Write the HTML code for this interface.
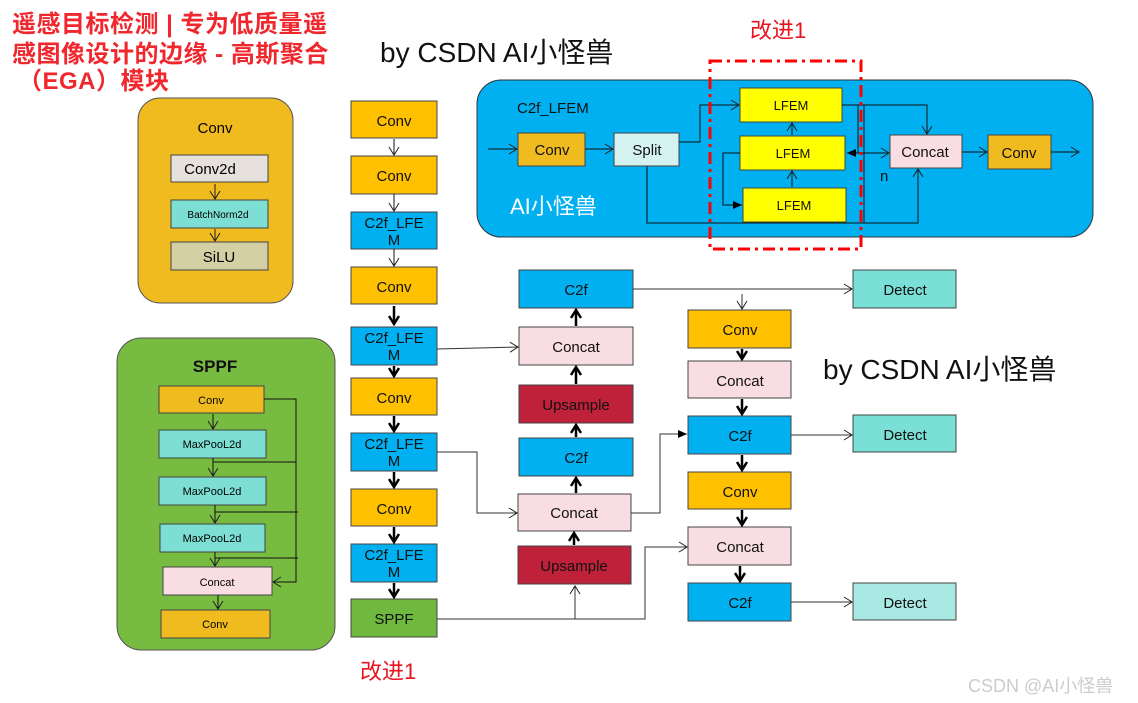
<!DOCTYPE html>
<html><head><meta charset="utf-8"><style>
html,body{margin:0;padding:0;background:#fff;width:1138px;height:703px;overflow:hidden}
svg text{font-family:"Liberation Sans","Noto Sans CJK SC",sans-serif}
</style></head><body>
<svg width="1138" height="703" viewBox="0 0 1138 703" xmlns="http://www.w3.org/2000/svg">
<defs>
<marker id="o" markerWidth="12" markerHeight="12" refX="10" refY="6" orient="auto" markerUnits="userSpaceOnUse"><path d="M2,1 L10,6 L2,11" fill="none" stroke="#222" stroke-width="1"/></marker>
<marker id="b" markerWidth="12" markerHeight="12" refX="10" refY="6" orient="auto" markerUnits="userSpaceOnUse"><path d="M2,1 L10,6 L2,11" fill="none" stroke="#000" stroke-width="2.5"/></marker>
<marker id="f" markerWidth="12" markerHeight="12" refX="10" refY="6" orient="auto" markerUnits="userSpaceOnUse"><path d="M1,2 L10,6 L1,10 Z" fill="#000"/></marker>
</defs>
<g font-weight="bold" fill="#F0282D" font-size="24" letter-spacing="0.5">
<text x="12" y="32">遥感目标检测 | 专为低质量遥</text>
<text x="12" y="62">感图像设计的边缘 - 高斯聚合</text>
<text x="18" y="89">（EGA）模块</text>
</g>
<text x="380" y="62" font-size="28" fill="#111">by CSDN AI小怪兽</text>
<text x="823" y="379" font-size="28" fill="#111">by CSDN AI小怪兽</text>
<text x="750" y="38" font-size="22" fill="#E8141E">改进1</text>
<text x="360" y="679" font-size="22" fill="#E8141E">改进1</text>
<text x="968" y="692" font-size="18" fill="#ccc">CSDN @AI小怪兽</text>

<!-- Conv panel -->
<rect x="138" y="98" width="155" height="205" rx="22" fill="#F0BB1E" stroke="#555"/>
<text x="215" y="133" font-size="15" text-anchor="middle">Conv</text>
<rect x="171" y="155" width="97" height="27" fill="#E6E1DC" stroke="#444"/>
<text x="210" y="174" font-size="15" text-anchor="middle">Conv2d</text>
<rect x="171" y="200" width="97" height="28" fill="#7DDFD3" stroke="#444"/>
<text x="218" y="218" font-size="10" text-anchor="middle">BatchNorm2d</text>
<rect x="171" y="242" width="97" height="28" fill="#D4D0A6" stroke="#444"/>
<text x="219" y="262" font-size="15" text-anchor="middle">SiLU</text>
<line x1="215" y1="184" x2="215" y2="199" stroke="#222" marker-end="url(#o)"/>
<line x1="215" y1="229" x2="215" y2="241" stroke="#222" marker-end="url(#o)"/>

<!-- SPPF panel -->
<rect x="117" y="338" width="218" height="312" rx="24" fill="#77BB41" stroke="#555"/>
<text x="215" y="372" font-size="17" font-weight="bold" text-anchor="middle" fill="#111">SPPF</text>
<g stroke="#444">
<rect x="159" y="386" width="105" height="27" fill="#F0BB1E"/>
<rect x="159" y="430" width="107" height="28" fill="#7DDFD3"/>
<rect x="159" y="477" width="107" height="28" fill="#7DDFD3"/>
<rect x="160" y="524" width="105" height="28" fill="#7DDFD3"/>
<rect x="163" y="567" width="109" height="28" fill="#F8DDE2"/>
<rect x="161" y="610" width="109" height="28" fill="#F0BB1E"/>
</g>
<g font-size="11" text-anchor="middle">
<text x="211" y="404">Conv</text>
<text x="212" y="448">MaxPooL2d</text>
<text x="212" y="495">MaxPooL2d</text>
<text x="212" y="542">MaxPooL2d</text>
<text x="217" y="586">Concat</text>
<text x="215" y="628">Conv</text>
</g>
<g stroke="#111" fill="none">
<line x1="213" y1="414" x2="213" y2="429" marker-end="url(#o)"/>
<line x1="213" y1="458" x2="213" y2="476" marker-end="url(#o)"/>
<line x1="215" y1="505" x2="215" y2="523" marker-end="url(#o)"/>
<line x1="215" y1="552" x2="215" y2="566" marker-end="url(#o)"/>
<line x1="218" y1="595" x2="218" y2="609" marker-end="url(#o)"/>
<polyline points="264,399 296,399 296,582 273,582" marker-end="url(#o)"/>
<line x1="213" y1="462" x2="296" y2="462"/>
<line x1="215" y1="512" x2="298" y2="512"/>
<line x1="215" y1="558" x2="298" y2="558"/>
</g>

<!-- Backbone -->
<g stroke="#444">
<rect x="351" y="101" width="86" height="37" fill="#FFC000"/>
<rect x="351" y="156" width="86" height="38" fill="#FFC000"/>
<rect x="351" y="212" width="86" height="37" fill="#00B0F0"/>
<rect x="351" y="267" width="86" height="37" fill="#FFC000"/>
<rect x="351" y="327" width="86" height="38" fill="#00B0F0"/>
<rect x="351" y="378" width="86" height="37" fill="#FFC000"/>
<rect x="351" y="433" width="86" height="38" fill="#00B0F0"/>
<rect x="351" y="489" width="86" height="37" fill="#FFC000"/>
<rect x="351" y="544" width="86" height="38" fill="#00B0F0"/>
<rect x="351" y="599" width="86" height="38" fill="#70B93F"/>
</g>
<g font-size="15" text-anchor="middle" fill="#111">
<text x="394" y="126">Conv</text>
<text x="394" y="181">Conv</text>
<text x="394" y="228">C2f_LFE</text><text x="394" y="245">M</text>
<text x="394" y="292">Conv</text>
<text x="394" y="343">C2f_LFE</text><text x="394" y="360">M</text>
<text x="394" y="403">Conv</text>
<text x="394" y="449">C2f_LFE</text><text x="394" y="466">M</text>
<text x="394" y="514">Conv</text>
<text x="394" y="560">C2f_LFE</text><text x="394" y="577">M</text>
<text x="394" y="624">SPPF</text>
</g>
<g stroke="#111" fill="none">
<line x1="394" y1="139" x2="394" y2="155" marker-end="url(#o)"/>
<line x1="394" y1="194" x2="394" y2="211" marker-end="url(#o)"/>
<line x1="394" y1="249" x2="394" y2="266" marker-end="url(#o)"/>
</g>
<g stroke="#000" stroke-width="2.5" fill="none">
<line x1="394" y1="306" x2="394" y2="324" marker-end="url(#b)"/>
<line x1="394" y1="366" x2="394" y2="376" marker-end="url(#b)"/>
<line x1="394" y1="416" x2="394" y2="431" marker-end="url(#b)"/>
<line x1="394" y1="472" x2="394" y2="487" marker-end="url(#b)"/>
<line x1="394" y1="527" x2="394" y2="542" marker-end="url(#b)"/>
<line x1="394" y1="583" x2="394" y2="597" marker-end="url(#b)"/>
</g>

<!-- Middle column -->
<g stroke="#444">
<rect x="519" y="270" width="114" height="38" fill="#00B0F0"/>
<rect x="519" y="327" width="114" height="38" fill="#F8DDE2"/>
<rect x="519" y="385" width="114" height="38" fill="#C0213A"/>
<rect x="519" y="438" width="114" height="38" fill="#00B0F0"/>
<rect x="518" y="494" width="113" height="37" fill="#F8DDE2"/>
<rect x="518" y="546" width="113" height="38" fill="#C0213A"/>
</g>
<g font-size="15" text-anchor="middle" fill="#111">
<text x="576" y="295">C2f</text>
<text x="576" y="352">Concat</text>
<text x="576" y="410">Upsample</text>
<text x="576" y="463">C2f</text>
<text x="574" y="518">Concat</text>
<text x="574" y="571">Upsample</text>
</g>
<g stroke="#000" stroke-width="2.5" fill="none">
<line x1="576" y1="326" x2="576" y2="310" marker-end="url(#b)"/>
<line x1="576" y1="384" x2="576" y2="367" marker-end="url(#b)"/>
<line x1="576" y1="437" x2="576" y2="425" marker-end="url(#b)"/>
<line x1="576" y1="493" x2="576" y2="478" marker-end="url(#b)"/>
<line x1="574" y1="545" x2="574" y2="533" marker-end="url(#b)"/>
</g>
<g stroke="#333" fill="none">
<line x1="437" y1="349" x2="518" y2="347" marker-end="url(#o)"/>
<polyline points="437,452 477,452 477,513 517,513" marker-end="url(#o)"/>
<polyline points="437,619 645,619 645,547 687,547" marker-end="url(#o)"/>
<line x1="575" y1="619" x2="575" y2="586" marker-end="url(#o)"/>
<polyline points="631,513 660,513 660,434 687,434" marker-end="url(#f)"/>
<line x1="633" y1="289" x2="852" y2="289" marker-end="url(#o)"/>
<line x1="742" y1="294" x2="742" y2="309" marker-end="url(#o)"/>
<line x1="791" y1="435" x2="852" y2="435" marker-end="url(#o)"/>
<line x1="791" y1="602" x2="852" y2="602" marker-end="url(#o)"/>
</g>

<!-- Right column -->
<g stroke="#444">
<rect x="688" y="310" width="103" height="38" fill="#FFC000"/>
<rect x="688" y="361" width="103" height="37" fill="#F8DDE2"/>
<rect x="688" y="416" width="103" height="38" fill="#00B0F0"/>
<rect x="688" y="472" width="103" height="37" fill="#FFC000"/>
<rect x="688" y="527" width="103" height="38" fill="#F8DDE2"/>
<rect x="688" y="583" width="103" height="38" fill="#00B0F0"/>
<rect x="853" y="270" width="103" height="38" fill="#7ADFD6"/>
<rect x="853" y="415" width="103" height="37" fill="#7ADFD6"/>
<rect x="853" y="583" width="103" height="37" fill="#A9E9E3"/>
</g>
<g font-size="15" text-anchor="middle" fill="#111">
<text x="740" y="335">Conv</text>
<text x="740" y="386">Concat</text>
<text x="740" y="441">C2f</text>
<text x="740" y="497">Conv</text>
<text x="740" y="552">Concat</text>
<text x="740" y="608">C2f</text>
<text x="905" y="295">Detect</text>
<text x="905" y="440">Detect</text>
<text x="905" y="608">Detect</text>
</g>
<g stroke="#000" stroke-width="2.5" fill="none">
<line x1="742" y1="349" x2="742" y2="359" marker-end="url(#b)"/>
<line x1="742" y1="399" x2="742" y2="414" marker-end="url(#b)"/>
<line x1="742" y1="455" x2="742" y2="470" marker-end="url(#b)"/>
<line x1="742" y1="510" x2="742" y2="525" marker-end="url(#b)"/>
<line x1="740" y1="566" x2="740" y2="581" marker-end="url(#b)"/>
</g>

<!-- C2f_LFEM panel -->
<rect x="477" y="80" width="616" height="157" rx="24" fill="#00B0F0" stroke="#333"/>
<text x="517" y="113" font-size="15" fill="#111">C2f_LFEM</text>
<text x="510" y="214" font-size="22" fill="#fff">AI小怪兽</text>
<g stroke="#444">
<rect x="518" y="133" width="67" height="33" fill="#F0BB1E"/>
<rect x="614" y="133" width="65" height="33" fill="#D4F2F0"/>
<rect x="740" y="88" width="102" height="34" fill="#FFFF00"/>
<rect x="740" y="136" width="105" height="34" fill="#FFFF00"/>
<rect x="743" y="188" width="103" height="34" fill="#FFFF00"/>
<rect x="890" y="135" width="72" height="33" fill="#F8DDE2"/>
<rect x="988" y="135" width="63" height="34" fill="#F0BB1E"/>
</g>
<g font-size="15" text-anchor="middle" fill="#111">
<text x="552" y="155">Conv</text>
<text x="647" y="155">Split</text>
<text x="925" y="157">Concat</text>
<text x="1019" y="158">Conv</text>
<text x="880" y="181" text-anchor="start">n</text>
</g>
<g font-size="13" text-anchor="middle" fill="#111">
<text x="791" y="110">LFEM</text>
<text x="793" y="158">LFEM</text>
<text x="794" y="210">LFEM</text>
</g>
<g stroke="#111" fill="none">
<line x1="488" y1="149" x2="517" y2="149" marker-end="url(#o)"/>
<line x1="585" y1="149" x2="613" y2="149" marker-end="url(#o)"/>
<polyline points="679,142 700,142 700,105 739,105" marker-end="url(#o)"/>
<line x1="792" y1="135" x2="792" y2="123" marker-end="url(#o)"/>
<line x1="792" y1="187" x2="792" y2="171" marker-end="url(#o)"/>
<polyline points="740,153 723,153 723,205 742,205" marker-end="url(#f)"/>
<polyline points="842,105 927,105 927,134" marker-end="url(#o)"/>
<line x1="858" y1="105" x2="858" y2="153"/>
<line x1="858" y1="153" x2="847" y2="153" marker-end="url(#f)"/>
<line x1="858" y1="153" x2="889" y2="153" marker-end="url(#o)"/>
<line x1="864" y1="105" x2="864" y2="223"/>
<polyline points="647,166 647,223 918,223 918,169" marker-end="url(#o)"/>
<line x1="962" y1="152" x2="987" y2="152" marker-end="url(#o)"/>
<line x1="1051" y1="152" x2="1079" y2="152" marker-end="url(#o)"/>
</g>
<rect x="710" y="61" width="151" height="188" fill="none" stroke="#F00" stroke-width="3" stroke-dasharray="12,5,3,5"/>
</svg>
</body></html>
